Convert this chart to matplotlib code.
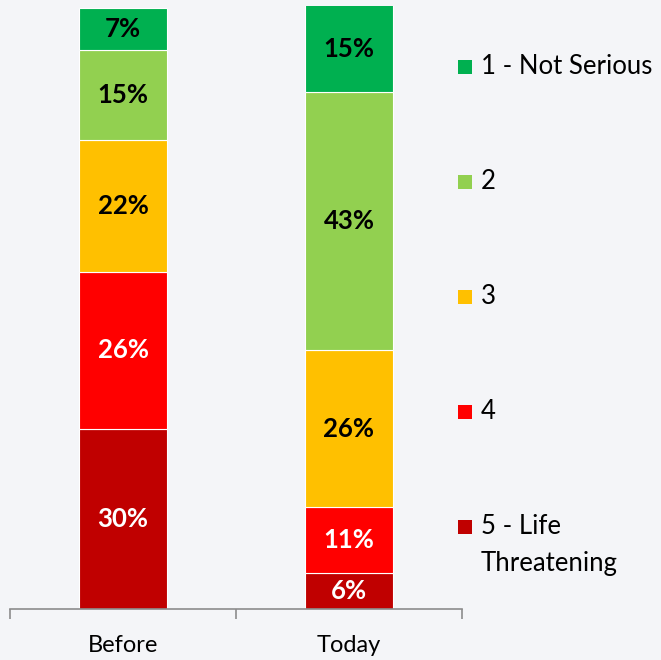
import matplotlib.pyplot as plt
from matplotlib.patches import Rectangle

# data
periods = ['Before', 'Today']
levels = ['1 - Not Serious', '2', '3', '4', '5 - Life\nThreatening']
# stacked from bottom: level 5, 4, 3, 2, 1
level5 = [30, 6]
level4 = [26, 11]
level3 = [22, 26]
level2 = [15, 43]
level1 = [7, 15]

colors = ['#00B050', '#92D050', '#FFC000', '#FF0000', '#C00000']
text_colors = ['black', 'black', 'black', 'white', 'white']
bg = '#F4F5F8'

plt.rcParams['font.family'] = ['Lato', 'DejaVu Sans']

fig = plt.figure(figsize=(6.61, 6.60), dpi=100, facecolor=bg)
ax = fig.add_axes([10 / 661, 1 - 609 / 660, 452 / 661, 603 / 660])
ax.set_facecolor(bg)

stack = [level5, level4, level3, level2, level1]
stack_colors = colors[::-1]
stack_text = text_colors[::-1]
x = list(range(len(periods)))
bottom = [0] * len(periods)
for vals, col, tcol in zip(stack, stack_colors, stack_text):
    bars = ax.bar(x, vals, width=0.39, bottom=bottom, color=col,
                  edgecolor='white', linewidth=0.8)
    ax.bar_label(bars, labels=[f'{v}%' for v in vals], label_type='center',
                 color=tcol, fontsize=18.5, fontweight='bold')
    bottom = [b + v for b, v in zip(bottom, vals)]

ax.set_xlim(-0.5, 1.5)
ax.set_ylim(0, 100.3)
for s in ['top', 'right', 'left']:
    ax.spines[s].set_visible(False)
ax.spines['bottom'].set_color('#8C8C8C')
ax.spines['bottom'].set_linewidth(1.2)
ax.set_yticks([])
ax.set_xticks(x)
ax.set_xticklabels(periods, fontsize=17)
ax.set_xticks([-0.5, 0.5, 1.5], minor=True)
ax.tick_params(axis='x', which='major', length=0, pad=19)
ax.tick_params(axis='x', which='minor', length=7, width=1.2, color='#8C8C8C')

# legend drawn by hand to match spacing
legend_y = [67, 182, 297, 412, 527]
for lab, col, yy in zip(levels, colors, legend_y):
    fig.patches.append(Rectangle((458 / 661, 1 - (yy + 7) / 660), 14 / 661, 14 / 660,
                                 transform=fig.transFigure, facecolor=col,
                                 edgecolor='none'))
    fig.text(481 / 661, 1 - (yy - 13) / 660, lab, fontsize=18.5, va='top',
             ha='left', linespacing=1.6)

plt.savefig('out.png', dpi=100, facecolor=bg)
